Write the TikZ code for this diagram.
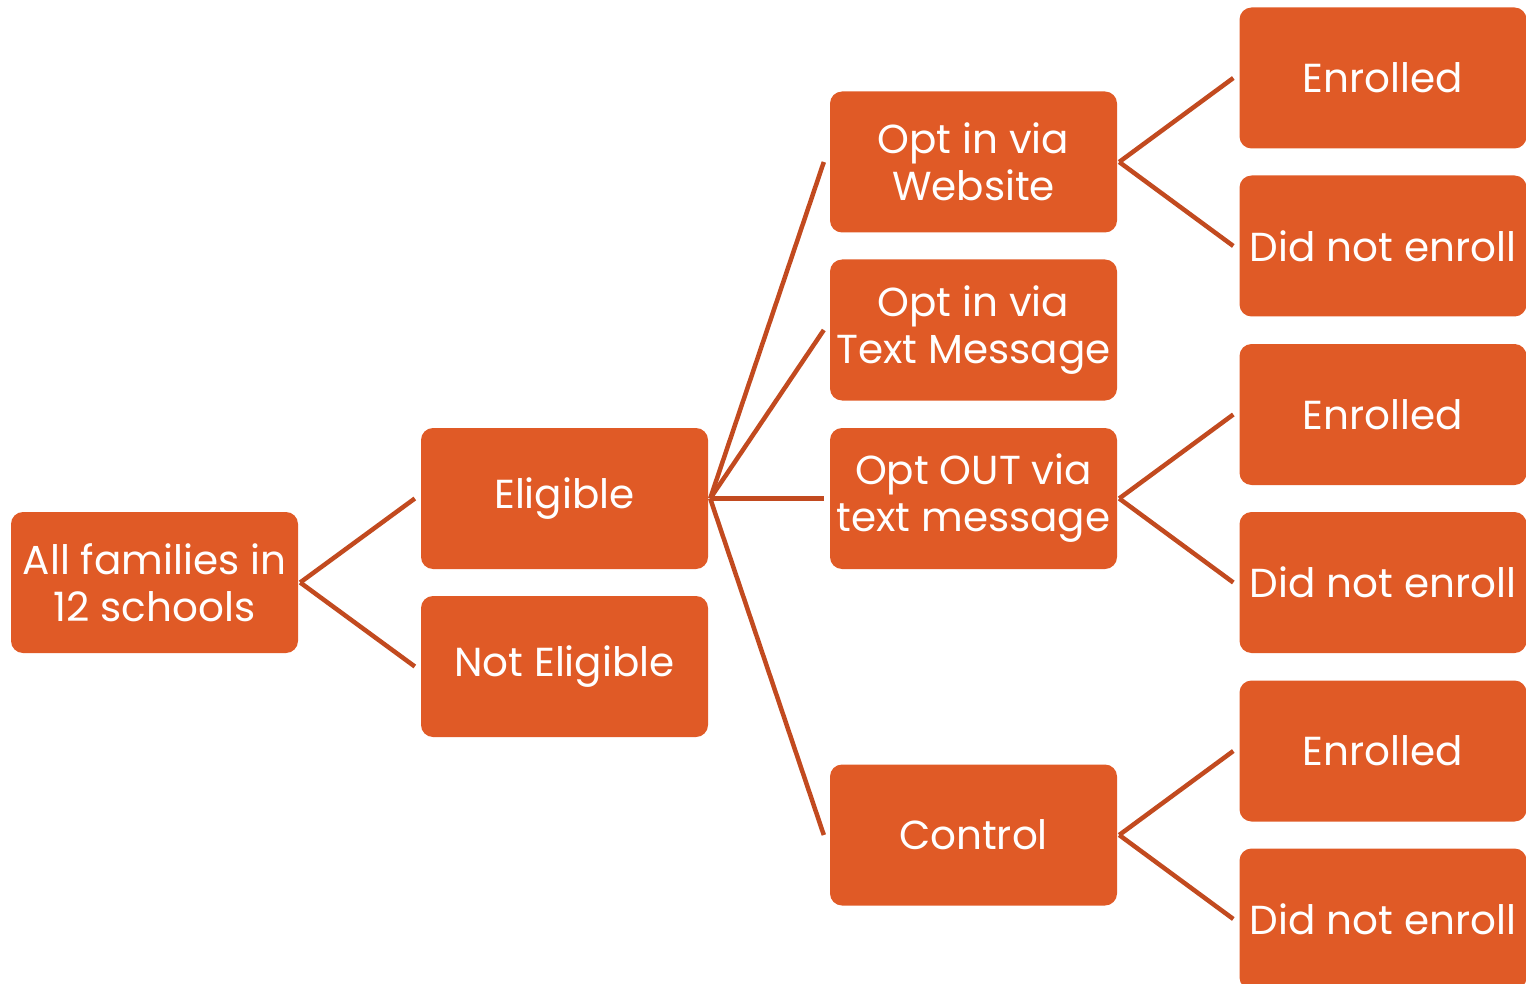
\documentclass[tikz,border=0pt]{standalone}
\usepackage{fontspec}
\setmainfont{Poppins}
\definecolor{boxfill}{HTML}{E05A26}
\definecolor{linecol}{HTML}{C24A1F}
\begin{document}
\begin{tikzpicture}[x=1pt,y=-1pt,
  box/.style={draw=none,fill=boxfill,rounded corners=12pt,minimum width=287pt,minimum height=141pt,
    text=white,align=center,inner sep=0pt,font=\fontsize{40.5}{47}\selectfont},
  conn/.style={draw=linecol,line width=4.5pt}]
\useasboundingbox (0,0) rectangle (1526,984);
\node[box] (all) at (154.5,582.5) {All families in\\12 schools};
\node[box] (elig) at (564.5,498.5) {Eligible};
\node[box] (nelig) at (564.5,666.5) {Not Eligible};
\node[box] (web) at (973.5,162) {Opt in via\\Website};
\node[box] (txt) at (973.5,330) {Opt in via\\Text Message};
\node[box] (out) at (973.5,498.5) {Opt OUT via\\text message};
\node[box] (ctrl) at (973.5,835) {Control};
\node[box] (e1) at (1383,78) {Enrolled};
\node[box] (d1) at (1383,246) {Did not enroll};
\node[box] (e2) at (1383,414.5) {Enrolled};
\node[box] (d2) at (1383,582.5) {Did not enroll};
\node[box] (e3) at (1383,751) {Enrolled};
\node[box] (d3) at (1383,919) {Did not enroll};
\foreach \p/\c in {all/elig,all/nelig,elig/web,elig/txt,elig/out,elig/ctrl,web/e1,web/d1,out/e2,out/d2,ctrl/e3,ctrl/d3}
  \draw[conn] ([xshift=2pt]\p.east) -- ([xshift=-6pt]\c.west);
\end{tikzpicture}
\end{document}
